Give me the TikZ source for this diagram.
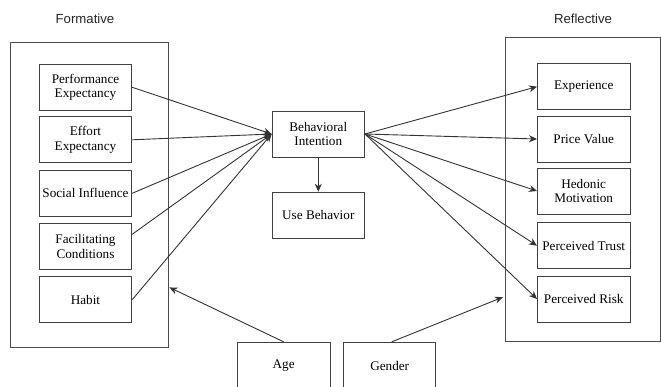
\documentclass[tikz,border=0pt]{standalone}
\usepackage{fontspec}
\setmainfont{Liberation Serif}
\newfontfamily\labelfont{Liberation Sans}
\usetikzlibrary{arrows.meta,calc}
\begin{document}
\begin{tikzpicture}[x=1pt,y=-1pt,
  box/.style={draw=black!75,line width=0.9pt,minimum width=92.5pt,minimum height=46pt,inner sep=1pt,align=center,font=\fontsize{13.2}{14.5}\selectfont},
  outerbox/.style={draw=black!70,line width=0.9pt,inner sep=0pt},
  grp/.style={font=\labelfont\fontsize{13.2}{15}\selectfont,text=black!85},
  conn/.style={draw=black!80,line width=0.9pt},
  arr/.style={conn,-{Stealth[length=8pt,width=7pt]}}]
\useasboundingbox (0,0) rectangle (661,387);
% outer boxes
\node[outerbox,minimum width=157.3pt,minimum height=304.3pt] (lbox) at (89.35,194.85) {};
\node[outerbox,minimum width=154.7pt,minimum height=304.4pt] (rbox) at (582.65,189.5) {};
\node[grp] (formative) at (85,19) {Formative};
\node[grp] (reflective) at (583,19) {Reflective};
% left boxes
\node[box] (pe) at (85.5,87.3) {Performance\\Expectancy};
\node[box] (ee) at (85.5,139.8) {Effort\\Expectancy};
\node[box] (si) at (85.5,193.3) {Social Influence};
\node[box] (fc) at (85.5,246.3) {Facilitating\\Conditions};
\node[box] (hb) at (85.5,299.7) {Habit};
% centre
\node[box] (bi) at (318.3,134) {Behavioral\\Intention};
\node[box] (ub) at (318.3,215.2) {Use Behavior};
% right boxes
\node[box] (ex) at (583.7,86.7) {Experience};
\node[box] (pv) at (583.7,139) {Price Value};
\node[box] (hm) at (583.7,191) {Hedonic\\Motivation};
\node[box] (pt) at (583.7,245.7) {Perceived Trust};
\node[box] (pr) at (583.7,299) {Perceived Risk};
% moderators
\node[box,minimum height=47pt] (age) at (283.7,365.8) {Age};
\node[box,minimum width=92pt,minimum height=47pt] (gender) at (389.7,365.8) {Gender};
% connectors
\draw[arr] (pe.east) -- (bi.west);
\draw[arr] (ee.east) -- (bi.west);
\draw[arr] (si.east) -- (bi.west);
\draw[arr] ([yshift=12pt]fc.east) -- (bi.west);
\draw[arr] (hb.east) -- (bi.west);
\draw[arr] (bi.south) -- (ub.north);
\draw[arr] (bi.east) -- (ex.west);
\draw[arr] (bi.east) -- (pv.west);
\draw[arr] (bi.east) -- (hm.west);
\draw[arr] (bi.east) -- (pt.west);
\draw[arr] (bi.east) -- (pr.west);
\coordinate (lin) at ($(lbox.south east)+(1,-60)$);
\coordinate (rin) at ($(rbox.south west)+(-2,-45)$);
\draw[arr] (age.north) -- (lin);
\draw[arr] ([xshift=2pt]gender.north) -- (rin);
\end{tikzpicture}
\end{document}
